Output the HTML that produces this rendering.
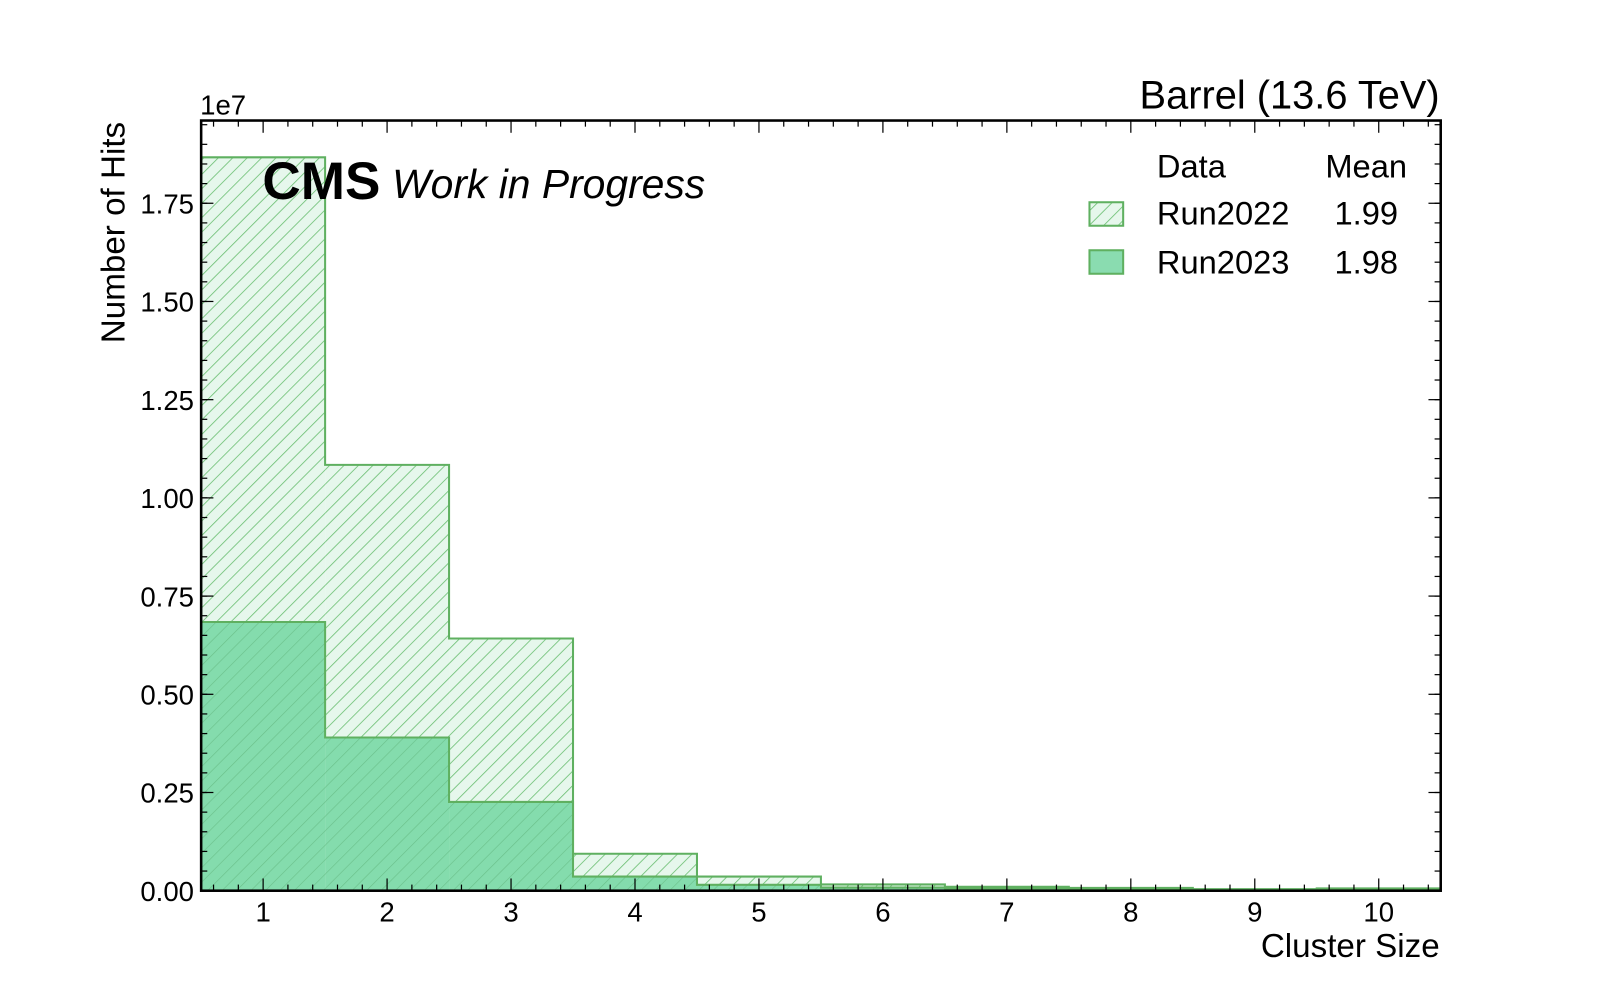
<!DOCTYPE html>
<html><head><meta charset="utf-8"><style>
body{margin:0;background:#fff}
svg{display:block;font-family:"Liberation Sans",sans-serif}
</style></head><body>
<svg id="chart" width="1600" height="1000" viewBox="0 0 1567 979" preserveAspectRatio="none">
<defs>
<pattern id="hatch" patternUnits="userSpaceOnUse" width="10" height="10" patternTransform="rotate(45)">
<rect width="10" height="10" fill="#e6f7ec"/>
<line x1="0" y1="0" x2="0" y2="10" stroke="#6cbf73" stroke-width="1.6"/>
</pattern>
<pattern id="hatch2" patternUnits="userSpaceOnUse" width="10" height="10" patternTransform="rotate(45)">
<line x1="0" y1="0" x2="0" y2="10" stroke="#5fb37a" stroke-width="1.2" opacity="0.7"/>
</pattern>
</defs>
<g id="bars"></g>
<g id="axes"></g>
<text x="196" y="112" font-size="27">1e7</text>
<text x="1410" y="106" font-size="39" text-anchor="end">Barrel (13.6 TeV)</text>
<text x="257" y="195" font-size="52" font-weight="bold">CMS</text>
<text x="384" y="194" font-size="40" font-style="italic">Work in Progress</text>
<text x="1410" y="937" font-size="32.5" text-anchor="end">Cluster Size</text>
<text transform="translate(122,336) rotate(-90)" font-size="32.5">Number of Hits</text>
<g font-size="32">
<text x="1133" y="174">Data</text>
<text x="1298" y="174">Mean</text>
<rect x="1067" y="198" width="33" height="23" fill="url(#hatch)" stroke="#5fb060" stroke-width="2"/>
<text x="1133" y="220">Run2022</text>
<text x="1307" y="220">1.99</text>
<rect x="1067" y="245" width="33" height="23" fill="#8adcb0" stroke="#5fb060" stroke-width="2"/>
<text x="1133" y="268">Run2023</text>
<text x="1307" y="268">1.98</text>
</g>
</svg>
<script>
const categories=[1,2,3,4,5,6,7,8,9,10];
const run2022=[1.867,1.084,0.642,0.094,0.036,0.016,0.010,0.007,0.004,0.006];
const run2023=[0.684,0.390,0.226,0.036,0.015,0.008,0.006,0.005,0.003,0.005];
const yTicks=[0,0.25,0.5,0.75,1.0,1.25,1.5,1.75];
const yTickLabels=["0.00","0.25","0.50","0.75","1.00","1.25","1.50","1.75"];
const L=197,R=1411,T=118,B=872,XMIN=0.5,XMAX=10.5,YMAX=1.9606;
const NS="http://www.w3.org/2000/svg";
const xs=v=>L+(v-XMIN)/(XMAX-XMIN)*(R-L);
const ys=v=>B-v/YMAX*(B-T);
function mk(t,a,p){const e=document.createElementNS(NS,t);for(const k in a)e.setAttribute(k,a[k]);p.appendChild(e);return e;}
const bars=document.getElementById('bars'),axes=document.getElementById('axes');
function drawHist(vals,fill,overlay,name){
  vals.forEach((v,i)=>{
    const x0=xs(categories[i]-0.5),x1=xs(categories[i]+0.5);
    const r=mk('rect',{x:x0,y:ys(v),width:x1-x0,height:B-ys(v),fill:fill,stroke:'none'},bars);
    
    
    if(overlay){mk('rect',{x:x0,y:ys(v),width:x1-x0,height:B-ys(v),fill:overlay},bars);}
  });
  let d='M'+xs(XMIN)+','+B;
  vals.forEach((v,i)=>{d+=' L'+xs(categories[i]-0.5)+','+ys(v)+' L'+xs(categories[i]+0.5)+','+ys(v);});
  d+=' L'+xs(XMAX)+','+B;
  const p=mk('path',{d:d,fill:'none',stroke:'#5fb060','stroke-width':2},bars);
  
  
}
drawHist(run2022,'url(#hatch)',null,'run2022');
drawHist(run2023,'#84dcad','url(#hatch2)','run2023');
mk('rect',{x:L,y:T,width:R-L,height:B-T,fill:'none',stroke:'#000','stroke-width':2.5},axes);
for(let v=0.6;v<=10.41;v+=0.2){
  const x=xs(v),maj=Math.abs(v-Math.round(v))<0.01,len=maj?12:6;
  mk('line',{x1:x,y1:B,x2:x,y2:B-len,stroke:'#000','stroke-width':1.2},axes);
  mk('line',{x1:x,y1:T,x2:x,y2:T+len,stroke:'#000','stroke-width':1.2},axes);
}
categories.forEach(c=>{const t=mk('text',{x:xs(c),y:902,'font-size':27,'text-anchor':'middle'},axes);t.textContent=c;
});
for(let v=0.05;v<YMAX;v+=0.05){
  const y=ys(v);mk('line',{x1:L,y1:y,x2:L+6,y2:y,stroke:'#000','stroke-width':1.2},axes);
  mk('line',{x1:R,y1:y,x2:R-6,y2:y,stroke:'#000','stroke-width':1.2},axes);
}
yTicks.forEach((v,i)=>{const y=ys(v);
  mk('line',{x1:L,y1:y,x2:L+12,y2:y,stroke:'#000','stroke-width':1.2},axes);
  mk('line',{x1:R,y1:y,x2:R-12,y2:y,stroke:'#000','stroke-width':1.2},axes);
  const t=mk('text',{x:190,y:y+10,'font-size':27,'text-anchor':'end'},axes);t.textContent=yTickLabels[i];
  });
</script>
</body></html>
